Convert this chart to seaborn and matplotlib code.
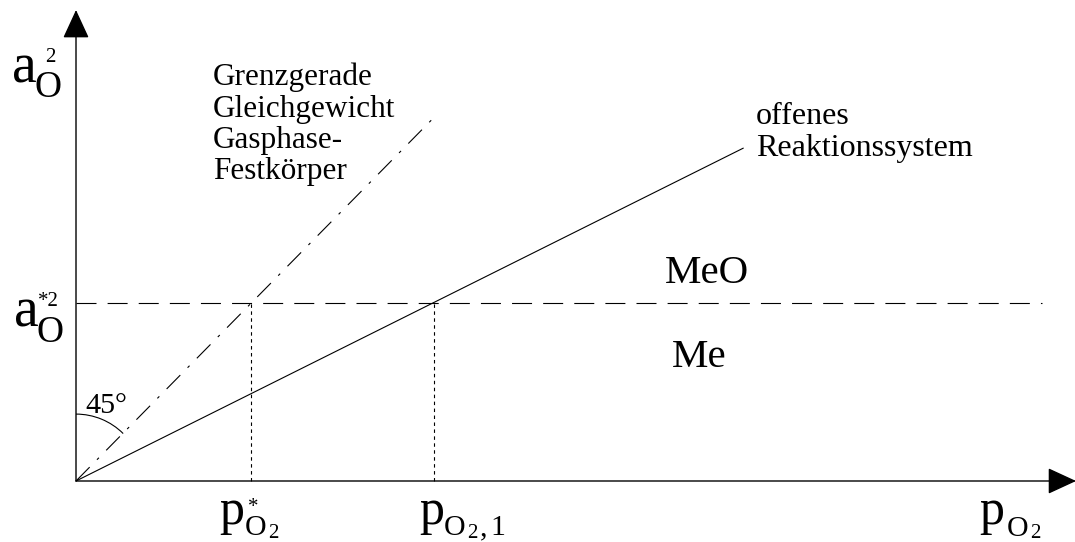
import matplotlib
matplotlib.use("Agg")
import matplotlib.pyplot as plt
from matplotlib.patches import Arc
import seaborn as sns

# --- values (p_O2 on x, a_O^2 on y, schematic units) ---
p_star = 0.99          # p*_O2 : equilibrium boundary meets a*^2
p_one = 2.02           # p_O2,1 : open system meets a*^2
a_star = 1.0           # a*_O^2 : MeO / Me boundary level

eq_p = [0.0, 2.04]     # boundary line gas phase / solid (45 deg)
eq_a = [0.0, 2.06]
open_p = [0.0, 3.77]   # open reaction system
open_a = [0.0, 1.87]
level_p = [0.0, 5.46]  # horizontal a*^2 level
level_a = [a_star, a_star]

x_axis_end = 5.65
y_axis_end = 2.646

sns.set_theme(style="white")
plt.rcParams["font.family"] = ["Liberation Serif", "DejaVu Serif"]
plt.rcParams["text.color"] = "black"
plt.rcParams["lines.scale_dashes"] = False

fig = plt.figure(figsize=(10.75, 5.42), dpi=100)
ax = fig.add_axes([0, 0, 1, 1])
ax.set_xlim(-0.4294, 5.644)
ax.set_ylim(-0.3427, 2.7022)
ax.axis("off")

lw = 0.8
line_kw = dict(ax=ax, color="black", lw=lw, sort=False, estimator=None)
sns.lineplot(x=eq_p, y=eq_a, linestyle=(0, (14, 7.5, 2, 7.5)), **line_kw)
sns.lineplot(x=open_p, y=open_a, **line_kw)
sns.lineplot(x=level_p, y=level_a, linestyle=(0, (14.4, 8.0)), **line_kw)
for p in (p_star, p_one):
    sns.lineplot(x=[p, p], y=[0.0, a_star], linestyle=(0, (2.5, 2.5)), **line_kw)

# coordinate axes with filled arrow heads
arrow = dict(arrowstyle="-|>,head_length=1.8,head_width=0.83", color="black",
             lw=1.0, shrinkA=0, shrinkB=0, mutation_scale=10)
ax.annotate("", xy=(x_axis_end, 0), xytext=(0, 0), arrowprops=arrow,
            annotation_clip=False)
ax.annotate("", xy=(0, y_axis_end), xytext=(0, 0), arrowprops=arrow,
            annotation_clip=False)

# 45 degree angle marker
r = 0.378
ax.add_patch(Arc((0, 0), 2 * r, 2 * r * 177 / 178, theta1=45, theta2=90,
                 color="black", lw=lw))
ax.text(0.051, 0.382, "45°", fontsize=21.6, va="baseline", ha="left")

# line annotations
for txt, y in zip(["Grenzgerade", "Gleichgewicht", "Gasphase-", "Festkörper"],
                  [2.225, 2.045, 1.871, 1.697]):
    ax.text(0.774, y, txt, fontsize=22.5, va="baseline", ha="left")
ax.text(3.842, 2.006, "offenes", fontsize=23, va="baseline", ha="left")
ax.text(3.842, 1.826, "Reaktionssystem", fontsize=23, va="baseline", ha="left")

ax.text(3.565, 1.112, "MeO", fontsize=29.5, va="baseline", ha="center")
ax.text(3.520, 0.640, "Me", fontsize=29.5, va="baseline", ha="center")


def symbol(anchor, pieces):
    """Typeset a symbol from pieces (text, size, dx, dy) in pixels from anchor."""
    for txt, size, dx, dy in pieces:
        ax.annotate(txt, xy=anchor, xytext=(dx, dy), textcoords="offset pixels",
                    fontsize=size, va="baseline", ha="left",
                    annotation_clip=False)


# axis symbols
symbol((0, y_axis_end), [("a", 40, -64, -72), ("O", 27, -42, -87),
                         ("2", 15, -31, -52)])
symbol((0, a_star), [("a", 40, -62, -24), ("O", 27, -40, -39),
                     ("*2", 15, -38, -3)])
symbol((p_star, 0), [("p", 36, -32, -43), ("O", 21.5, -6, -54),
                     ("2", 15, 17, -57), ("*", 15, -3, -31)])
symbol((p_one, 0), [("p", 36, -14, -43), ("O", 21.5, 10, -54),
                    ("2", 15, 34, -57), (",", 21.5, 46, -54),
                    ("1", 21.5, 57, -54)])
symbol((x_axis_end, 0), [("p", 36, -97, -43), ("O", 21.5, -69, -55),
                         ("2", 15, -46, -57)])

fig.savefig("out.png", dpi=100, facecolor="white")
